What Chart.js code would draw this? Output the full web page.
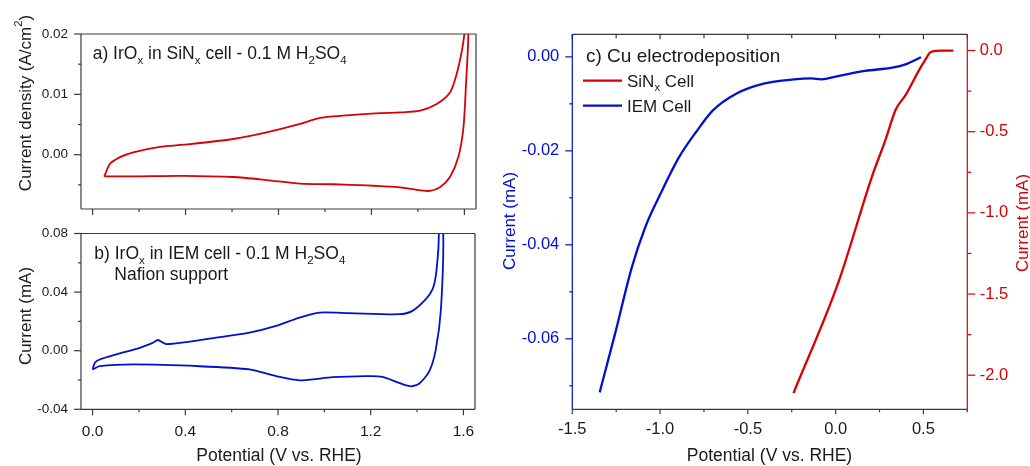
<!DOCTYPE html>
<html>
<head>
<meta charset="utf-8">
<script src="https://cdn.jsdelivr.net/npm/chart.js@4.4.0/dist/chart.umd.min.js"></script>
<style>
  html, body { margin: 0; padding: 0; background: #fff; }
  #wrap { position: relative; width: 1030px; height: 466px; }
  #wrap canvas { position: absolute; left: 0; top: 0; }
</style>
</head>
<body>
<div id="wrap">
  <canvas id="cvA" width="1030" height="466"></canvas>
  <canvas id="cvB" width="1030" height="466"></canvas>
  <canvas id="cvC" width="1030" height="466"></canvas>
</div>
<script>
// a) IrOx in SiNx cell, cyclic voltammogram (V vs RHE / A cm-2)
const potA = [0.05, 0.075, 0.118, 0.175, 0.29, 0.405, 0.605, 0.749, 0.893, 0.979, 1.122, 1.237, 1.323, 1.41, 1.481, 1.538, 1.567, 1.589, 1.600, 1.608,
  1.617, 1.607, 1.596, 1.574, 1.538, 1.495, 1.452, 1.41, 1.323, 1.237, 1.18, 1.036, 0.893, 0.749, 0.605, 0.39, 0.175, 0.05];
const curA = [-0.0036, -0.0015, -0.0004, 0.0004, 0.0013, 0.0017, 0.0026, 0.0037, 0.0051, 0.0061, 0.0066, 0.0069, 0.0070, 0.0073, 0.0084, 0.0103, 0.0134, 0.0172, 0.0200, 0.0230,
  0.0200, 0.0117, 0.0045, -0.0004, -0.0037, -0.0054, -0.0060, -0.0059, -0.0054, -0.0052, -0.0051, -0.0049, -0.0048, -0.0042, -0.0037, -0.0035, -0.0036, -0.0036];

// b) IrOx in IEM cell (V vs RHE / mA)
const potB = [0, 0.01, 0.031, 0.103, 0.204, 0.261, 0.282, 0.304, 0.319, 0.405, 0.534, 0.677, 0.792, 0.893, 0.979, 1.108, 1.323, 1.38, 1.438, 1.467, 1.481, 1.492, 1.497,
  1.513, 1.503, 1.481, 1.453, 1.41, 1.374, 1.323, 1.251, 1.18, 1.036, 0.893, 0.792, 0.677, 0.462, 0.175, 0.031, 0];
const curB = [-0.0128, -0.0082, -0.0060, -0.0025, 0.0020, 0.0055, 0.0073, 0.0055, 0.0045, 0.0059, 0.0089, 0.0123, 0.0169, 0.0226, 0.0260, 0.0256, 0.0249, 0.0272, 0.0352, 0.0420, 0.0512, 0.0695, 0.0850,
  0.0800, 0.0283, 0.0009, -0.0140, -0.0224, -0.0243, -0.0220, -0.0178, -0.0174, -0.0181, -0.0202, -0.0174, -0.0128, -0.0106, -0.0094, -0.0106, -0.0128];

// c) Cu electrodeposition (V vs RHE / mA)
const potIEM = [-1.344, -1.257, -1.161, -1.084, -0.997, -0.891, -0.795, -0.699, -0.564, -0.41, -0.237, -0.14, -0.082, 0.014, 0.168, 0.322, 0.399, 0.486];
const curIEM = [-0.0714, -0.059, -0.0448, -0.0362, -0.0291, -0.0213, -0.016, -0.0114, -0.0078, -0.0057, -0.0048, -0.0046, -0.0048, -0.0041, -0.003, -0.0023, -0.0016, -0.0001];
const potSiN = [-0.24, 0.014, 0.207, 0.284, 0.342, 0.399, 0.476, 0.52, 0.535, 0.557, 0.6, 0.671];
const curSiN = [-2.11, -1.433, -0.776, -0.55, -0.365, -0.273, -0.119, -0.04, -0.015, -0.004, 0, 0];

const FONT = "'Liberation Sans', Arial, sans-serif";
const RED = '#d80000';
const BLUE = '#0010cc';
const INK = '#1a1a1a';
const EDGE = '#3a3a3a';

Chart.defaults.font.family = FONT;
Chart.defaults.color = INK;

function pts(xs, ys) {
  return xs.map((x, i) => ({ x: x, y: ys[i] }));
}

function isMult(v, step) {
  const r = v / step;
  return Math.abs(r - Math.round(r)) < 1e-6;
}

function fmt(dec, major) {
  return function (v) {
    if (!isMult(v, major)) return '';
    const r = Math.round(v / major) * major;
    return (Math.abs(r) < 1e-12 ? 0 : r).toFixed(dec);
  };
}

function drawRich(ctx, t) {
  const size = t.size || 17;
  ctx.save();
  ctx.translate(t.x, t.y);
  if (t.rotate) ctx.rotate(-Math.PI / 2);
  ctx.fillStyle = t.color || INK;
  ctx.textBaseline = t.baseline || 'alphabetic';
  ctx.textAlign = 'left';
  const pieces = t.parts.map(p => {
    const sz = p[1] ? size * 0.66 : size;
    ctx.font = sz + 'px ' + FONT;
    return { text: p[0], mode: p[1], sz: sz, w: ctx.measureText(p[0]).width };
  });
  const total = pieces.reduce((s, p) => s + p.w, 0);
  let x = t.align === 'center' ? -total / 2 : 0;
  pieces.forEach(p => {
    ctx.font = p.sz + 'px ' + FONT;
    const dy = p.mode === 'sub' ? size * 0.28 : p.mode === 'sup' ? -size * 0.4 : 0;
    ctx.fillText(p.text, x, dy);
    x += p.w;
  });
  ctx.restore();
}

// frame, tick marks, legend and rich text, all placed from the chart's own scales
const frame = {
  id: 'frame',
  afterDraw(chart, args, o) {
    const ctx = chart.ctx, a = chart.chartArea;
    ctx.save();
    ctx.lineWidth = 1.2;
    (o.marks || []).forEach(m => {
      const s = chart.scales[m.scale];
      ctx.strokeStyle = m.color || EDGE;
      s.ticks.forEach(t => {
        const len = isMult(t.value, m.major) ? m.len[0] : m.len[1];
        const p = s.getPixelForValue(t.value);
        ctx.beginPath();
        if (m.side === 'bottom') { ctx.moveTo(p, a.bottom); ctx.lineTo(p, a.bottom + len); }
        if (m.side === 'top') { ctx.moveTo(p, a.top); ctx.lineTo(p, a.top + len); }
        if (m.side === 'left') { ctx.moveTo(a.left, p); ctx.lineTo(a.left - len, p); }
        if (m.side === 'right') { ctx.moveTo(a.right, p); ctx.lineTo(a.right + len, p); }
        ctx.stroke();
      });
    });
    (o.borders || []).forEach(b => {
      ctx.strokeStyle = b.color || EDGE;
      ctx.beginPath();
      if (b.side === 'top') { ctx.moveTo(a.left, a.top); ctx.lineTo(a.right, a.top); }
      if (b.side === 'bottom') { ctx.moveTo(a.left, a.bottom); ctx.lineTo(a.right, a.bottom); }
      if (b.side === 'left') { ctx.moveTo(a.left, a.top); ctx.lineTo(a.left, a.bottom); }
      if (b.side === 'right') { ctx.moveTo(a.right, a.top); ctx.lineTo(a.right, a.bottom); }
      ctx.stroke();
    });
    (o.legend || []).forEach(l => {
      const ds = chart.data.datasets[l.dataset];
      ctx.strokeStyle = ds.borderColor;
      ctx.lineWidth = ds.borderWidth;
      ctx.beginPath();
      ctx.moveTo(l.x, l.y);
      ctx.lineTo(l.x + 39, l.y);
      ctx.stroke();
      drawRich(ctx, { x: l.x + 44, y: l.y + 6, size: 17, parts: l.parts });
    });
    (o.texts || []).forEach(t => drawRich(ctx, t));
    ctx.restore();
  }
};

function axis(opts) {
  return Object.assign({
    type: 'linear',
    grid: { display: false, drawTicks: false },
    border: { display: false },
  }, opts);
}

function ticks(step, pad, size, color, cb) {
  return {
    stepSize: step, autoSkip: false, includeBounds: false, maxRotation: 0,
    maxTicksLimit: 40, padding: pad, color: color || INK,
    font: { size: size, family: FONT }, callback: cb
  };
}

const lineDs = (label, data, color, width, tension, yAxisID) => ({
  label: label, data: data, borderColor: color, borderWidth: width,
  pointRadius: 0, tension: tension, fill: false, yAxisID: yAxisID || 'y'
});

const potTitle = [['Potential (V vs. RHE)']];

// panel a
new Chart(document.getElementById('cvA'), {
  type: 'scatter',
  data: { datasets: [lineDs('SiNx', pts(potA, curA), RED, 1.8, 0.25)] },
  options: {
    responsive: false, animation: false, showLine: true,
    layout: { padding: { left: 0, top: 34, right: 554, bottom: 249 } },
    plugins: {
      legend: { display: false }, tooltip: { enabled: false },
      frame: {
        borders: [{ side: 'top' }, { side: 'bottom' }, { side: 'left' }, { side: 'right' }],
        marks: [
          { scale: 'x', side: 'bottom', major: 0.4, len: [6, 3] },
          { scale: 'y', side: 'left', major: 0.01, len: [7, 3] }
        ],
        texts: [
          { x: 92.7, y: 59, size: 17.5, parts: [['a) IrO'], ['x', 'sub'], [' in SiN'], ['x', 'sub'], [' cell - 0.1 M H'], ['2', 'sub'], ['SO'], ['4', 'sub']] },
          { x: 26, y: 103, rotate: true, align: 'center', baseline: 'middle', size: 17, parts: [['Current density (A/cm'], ['2', 'sup'], [')']] }
        ]
      }
    },
    scales: {
      x: axis({ min: -0.05, max: 1.65, ticks: ticks(0.2, 0, 15, INK, () => ''), afterFit(s) { s.height = 8; } }),
      y: axis({ min: -0.009, max: 0.02, ticks: ticks(0.005, 13, 13.5, INK, fmt(2, 0.01)), afterFit(s) { s.width = 81; } })
    }
  },
  plugins: [frame]
});

// panel b
new Chart(document.getElementById('cvB'), {
  type: 'scatter',
  data: { datasets: [lineDs('IEM', pts(potB, curB), BLUE, 1.8, 0.25)] },
  options: {
    responsive: false, animation: false, showLine: true,
    layout: { padding: { left: 0, top: 233.5, right: 555, bottom: 26.7 } },
    plugins: {
      legend: { display: false }, tooltip: { enabled: false },
      frame: {
        borders: [{ side: 'top' }, { side: 'bottom' }, { side: 'left' }, { side: 'right' }],
        marks: [
          { scale: 'x', side: 'bottom', major: 0.4, len: [6, 3] },
          { scale: 'y', side: 'left', major: 0.04, len: [7, 3] }
        ],
        texts: [
          { x: 94.3, y: 259, size: 17.5, parts: [['b) IrO'], ['x', 'sub'], [' in IEM cell - 0.1 M H'], ['2', 'sub'], ['SO'], ['4', 'sub']] },
          { x: 114.3, y: 279.5, size: 17.5, parts: [['Nafion support']] },
          { x: 26, y: 316, rotate: true, align: 'center', baseline: 'middle', size: 17, parts: [['Current (mA)']] },
          { x: 279, y: 456, align: 'center', baseline: 'middle', size: 17.5, parts: potTitle }
        ]
      }
    },
    scales: {
      x: axis({ min: -0.05, max: 1.65, ticks: ticks(0.2, 13, 15.5, INK, fmt(1, 0.4)), afterFit(s) { s.height = 30; } }),
      y: axis({ min: -0.04, max: 0.08, ticks: ticks(0.02, 13, 13.5, INK, fmt(2, 0.04)), afterFit(s) { s.width = 81; } })
    }
  },
  plugins: [frame]
});

// panel c
const cDs = [
  lineDs('SiNx Cell', pts(potSiN, curSiN), RED, 2.3, 0.3, 'y2'),
  lineDs('IEM Cell', pts(potIEM, curIEM), BLUE, 2.3, 0.3, 'y')
];
cDs.forEach(d => { d.cubicInterpolationMode = 'monotone'; });

new Chart(document.getElementById('cvC'), {
  type: 'scatter',
  data: { datasets: cDs },
  options: {
    responsive: false, animation: false, showLine: true,
    layout: { padding: { left: 500, top: 34.3, right: 12.7, bottom: 26.7 } },
    plugins: {
      legend: { display: false }, tooltip: { enabled: false },
      frame: {
        borders: [{ side: 'top' }, { side: 'bottom' }, { side: 'left', color: BLUE }, { side: 'right', color: RED }],
        marks: [
          { scale: 'x', side: 'bottom', major: 0.5, len: [5, 3] },
          { scale: 'x', side: 'top', major: 0.5, len: [5, 4] },
          { scale: 'y', side: 'left', major: 0.02, len: [7, 3], color: BLUE },
          { scale: 'y2', side: 'right', major: 0.5, len: [8, 4], color: RED }
        ],
        legend: [
          { dataset: 0, x: 583, y: 80.7, parts: [['SiN'], ['x', 'sub'], [' Cell']] },
          { dataset: 1, x: 583, y: 105.7, parts: [['IEM Cell']] }
        ],
        texts: [
          { x: 586, y: 61.5, size: 19, parts: [['c) Cu electrodeposition']] },
          { x: 769.5, y: 456, align: 'center', baseline: 'middle', size: 17.5, parts: potTitle },
          { x: 510, y: 221, rotate: true, align: 'center', baseline: 'middle', size: 17, color: BLUE, parts: [['Current (mA)']] },
          { x: 1023, y: 223, rotate: true, align: 'center', baseline: 'middle', size: 17, color: RED, parts: [['Current (mA)']] }
        ]
      }
    },
    scales: {
      x: axis({ min: -1.5, max: 0.75, ticks: ticks(0.25, 10, 16.5, INK, fmt(1, 0.5)), afterFit(s) { s.height = 30; } }),
      y: axis({ position: 'left', min: -0.075, max: 0.0048, ticks: ticks(0.01, 13, 16.5, BLUE, fmt(2, 0.02)), afterFit(s) { s.width = 72.3; } }),
      y2: axis({ position: 'right', min: -2.21, max: 0.1, ticks: ticks(0.25, 12.5, 16.5, RED, fmt(1, 0.5)), afterFit(s) { s.width = 50; } })
    }
  },
  plugins: [frame]
});
</script>
</body>
</html>
